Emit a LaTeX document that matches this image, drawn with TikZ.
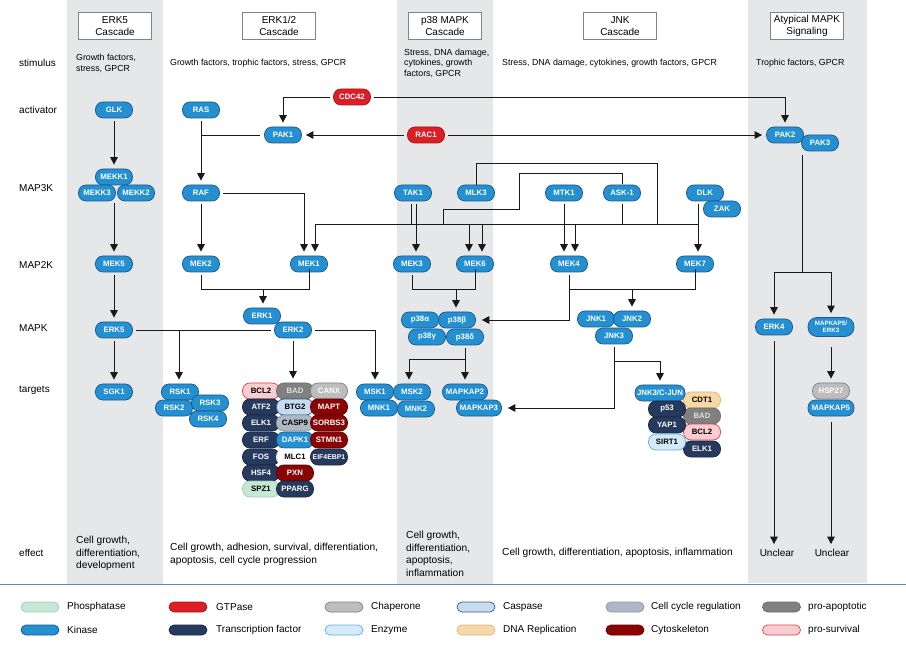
\documentclass[tikz,border=0pt]{standalone}
\usepackage{fontspec}
\setmainfont{Liberation Sans}
\usetikzlibrary{arrows.meta}
\definecolor{kinC}{RGB}{36,144,209}\definecolor{kinB}{RGB}{30,88,138}
\definecolor{tfC}{RGB}{38,58,94}\definecolor{tfB}{RGB}{25,38,65}
\definecolor{gtpC}{RGB}{220,31,38}\definecolor{gtpB}{RGB}{165,20,25}
\definecolor{chapC}{RGB}{189,189,189}\definecolor{chapB}{RGB}{130,130,130}
\definecolor{caspC}{RGB}{198,219,240}\definecolor{caspB}{RGB}{60,90,130}
\definecolor{ccC}{RGB}{173,184,197}\definecolor{ccB}{RGB}{135,150,168}
\definecolor{apoC}{RGB}{128,128,128}\definecolor{apoB}{RGB}{108,108,108}
\definecolor{phC}{RGB}{196,232,212}\definecolor{phB}{RGB}{160,205,180}
\definecolor{enzC}{RGB}{212,234,248}\definecolor{enzB}{RGB}{95,175,225}
\definecolor{dnaC}{RGB}{247,216,166}\definecolor{dnaB}{RGB}{215,180,130}
\definecolor{cytC}{RGB}{139,4,4}\definecolor{cytB}{RGB}{95,0,0}
\definecolor{surC}{RGB}{248,205,210}\definecolor{surB}{RGB}{225,65,78}
\definecolor{colbg}{RGB}{230,231,233}
\definecolor{sepC}{RGB}{90,140,180}
\definecolor{hdrB}{RGB}{130,130,130}
\definecolor{lineC}{RGB}{25,25,25}
\begin{document}
\begin{tikzpicture}[x=1pt,y=-1pt,
  pill/.style={rounded corners=7.5pt, minimum width=37pt, minimum height=16pt, inner sep=0pt, line width=0.7pt, font=\fontsize{7.8}{8}\selectfont\bfseries},
  kin/.style={pill, fill=kinC, draw=kinB, text=white},
  tf/.style={pill, fill=tfC, draw=tfB, text=white},
  gtp/.style={pill, fill=gtpC, draw=gtpB, text=white},
  chap/.style={pill, fill=chapC, draw=chapB, text=white},
  casp/.style={pill, fill=caspC, draw=caspB, text=black},
  cc/.style={pill, fill=ccC, draw=ccB, text=black},
  apo/.style={pill, fill=apoC, draw=apoB, text=white!88!black},
  ph/.style={pill, fill=phC, draw=phB, text=black},
  enz/.style={pill, fill=enzC, draw=enzB, text=black},
  dna/.style={pill, fill=dnaC, draw=dnaB, text=black},
  cyt/.style={pill, fill=cytC, draw=cytB, text=white},
  sur/.style={pill, fill=surC, draw=surB, text=black},
  plainpill/.style={pill, fill=white, draw=white, text=black},
  arr/.style={line width=0.9pt, draw=lineC, -{Triangle[width=7.5pt,length=7.5pt]}, shorten >=4pt},
  ln/.style={line width=0.9pt, draw=lineC},
  hdr/.style={draw=hdrB, fill=white, line width=0.8pt, minimum width=73pt, minimum height=27pt, align=center, font=\fontsize{10}{11.5}\selectfont, inner sep=0pt},
  rowlab/.style={anchor=west, inner sep=0pt, font=\fontsize{10}{12}\selectfont},
  stim/.style={anchor=west, align=left, font=\fontsize{8.8}{10.5}\selectfont, inner sep=0pt},
  eff/.style={anchor=west, align=left, font=\fontsize{10.2}{12.5}\selectfont, inner sep=0pt},
  sw/.style={rounded corners=5pt, minimum width=38pt, minimum height=10pt, inner sep=0pt, line width=0.7pt},
  legt/.style={anchor=west, font=\fontsize{10}{12}\selectfont, inner sep=0pt},
]
\useasboundingbox (0,0) rectangle (906,655);
% background columns
\fill[colbg] (67,0) rectangle (163,584);
\fill[colbg] (397,0) rectangle (493,584);
\fill[colbg] (748,0) rectangle (867,583);
\draw[sepC, line width=1pt] (0,584.5) -- (906,584.5);

% headers
\node[hdr] (hERK5) at (115,26) {ERK5\\Cascade};
\node[hdr] (hERK12) at (279,26) {ERK1/2\\Cascade};
\node[hdr] (hP38) at (445,26) {p38 MAPK\\Cascade};
\node[hdr] (hJNK) at (620,26) {JNK\\Cascade};
\node[hdr] (hATY) at (807,26) {Atypical MAPK\\Signaling};

% row labels
\node[rowlab] (lStim) at (19,63) {stimulus};
\node[rowlab] (lAct) at (19,110) {activator};
\node[rowlab] (lM3) at (19,188) {MAP3K};
\node[rowlab] (lM2) at (19,265) {MAP2K};
\node[rowlab] (lM1) at (19,328) {MAPK};
\node[rowlab] (lTar) at (19,390) {targets};
\node[rowlab] (lEff) at (19,553) {effect};

% stimuli
\node[stim] (s1) at (76,63.5) {Growth factors,\\stress, GPCR};
\node[stim] (s2) at (170,63) {Growth factors, trophic factors, stress, GPCR};
\node[stim] (s3) at (404,63) {Stress, DNA damage,\\cytokines, growth\\factors, GPCR};
\node[stim] (s4) at (502,63) {Stress, DNA damage, cytokines, growth factors, GPCR};
\node[stim] (s5) at (756,63) {Trophic factors, GPCR};

% effects
\node[eff] (e1) at (76,553.5) {Cell growth,\\differentiation,\\development};
\node[eff] (e2) at (170,554.5) {Cell growth, adhesion, survival, differentiation,\\apoptosis, cell cycle progression};
\node[eff] (e3) at (406,554) {Cell growth,\\differentiation,\\apoptosis,\\inflammation};
\node[eff] (e4) at (502,553) {Cell growth, differentiation, apoptosis, inflammation};
\node[font=\fontsize{10}{12}\selectfont, inner sep=1pt] (U1) at (777,553) {Unclear};
\node[font=\fontsize{10}{12}\selectfont, inner sep=1pt] (U2) at (832,553) {Unclear};

% activators
\node[kin] (GLK) at (114,110) {GLK};
\node[kin] (RAS) at (201,110) {RAS};
\node[gtp] (CDC42) at (352,97) {CDC42};
\node[kin] (PAK1) at (283,135) {PAK1};
\node[gtp] (RAC1) at (426,135) {RAC1};
\node[kin] (PAK2) at (785,135) {PAK2};
\node[kin] (PAK3) at (820,143) {PAK3};

% MAP3K
\node[kin] (MEKK1) at (114,177) {MEKK1};
\node[kin] (MEKK3) at (97,193) {MEKK3};
\node[kin] (MEKK2) at (136,193) {MEKK2};
\node[kin] (RAF) at (201,193) {RAF};
\node[kin] (TAK1) at (413,193) {TAK1};
\node[kin] (MLK3) at (476,193) {MLK3};
\node[kin] (MTK1) at (564,193) {MTK1};
\node[kin] (ASK1) at (622,193) {ASK-1};
\node[kin] (DLK) at (705,193) {DLK};
\node[kin] (ZAK) at (722,209) {ZAK};

% MAP2K
\node[kin] (MEK5) at (114,264) {MEK5};
\node[kin] (MEK2) at (201,264) {MEK2};
\node[kin] (MEK1) at (309,264) {MEK1};
\node[kin] (MEK3) at (412,264) {MEK3};
\node[kin] (MEK6) at (475,264) {MEK6};
\node[kin] (MEK4) at (569,264) {MEK4};
\node[kin] (MEK7) at (695,264) {MEK7};

% MAPK
\node[kin] (ERK5) at (114,330) {ERK5};
\node[kin] (ERK1) at (262,316) {ERK1};
\node[kin] (ERK2) at (293,330) {ERK2};
\node[kin] (p38a) at (420,320) {p38α};
\node[kin] (p38b) at (457,320) {p38β};
\node[kin] (p38g) at (427,337) {p38γ};
\node[kin] (p38d) at (465,337) {p38δ};
\node[kin] (JNK1) at (596,319) {JNK1};
\node[kin] (JNK2) at (632,319) {JNK2};
\node[kin] (JNK3) at (614,336) {JNK3};
\node[kin] (ERK4) at (774,327) {ERK4};
\node[kin, minimum width=46pt, minimum height=19pt, rounded corners=9pt, align=center, font=\fontsize{6.2}{7}\selectfont\bfseries] (MK5E3) at (831,327) {MAPKAP5/\\ERK3};

% targets
\node[kin] (SGK1) at (114,392) {SGK1};
\node[kin] (RSK1) at (180,392) {RSK1};
\node[kin] (RSK2) at (174,408) {RSK2};
\node[kin] (RSK3) at (210,403) {RSK3};
\node[kin] (RSK4) at (208,419) {RSK4};

\node[sur] (gBCL2) at (261,391) {BCL2};
\node[apo] (gBAD) at (295,391) {BAD};
\node[chap] (gCANX) at (329,391) {CANX};
\node[tf] (gATF2) at (261,407) {ATF2};
\node[casp] (gBTG2) at (295,407) {BTG2};
\node[cyt] (gMAPT) at (329,407) {MAPT};
\node[tf] (gELK1) at (261,423) {ELK1};
\node[cc] (gCASP9) at (295,423) {CASP9};
\node[cyt] (gSORBS3) at (329,423) {SORBS3};
\node[tf] (gERF) at (261,440) {ERF};
\node[kin] (gDAPK1) at (295,440) {DAPK1};
\node[cyt] (gSTMN1) at (329,440) {STMN1};
\node[tf] (gFOS) at (261,457) {FOS};
\node[plainpill] (gMLC1) at (295,457) {MLC1};
\node[tf, font=\fontsize{6.9}{8}\selectfont\bfseries] (gEIF) at (329,457) {EIF4EBP1};
\node[tf] (gHSF4) at (261,473) {HSF4};
\node[cyt] (gPXN) at (295,473) {PXN};
\node[ph] (gSPZ1) at (261,489) {SPZ1};
\node[tf] (gPPARG) at (295,489) {PPARG};

\node[kin] (MSK1) at (375,392) {MSK1};
\node[kin] (MNK1) at (379,408) {MNK1};
\node[kin] (MSK2) at (412,392) {MSK2};
\node[kin] (MNK2) at (416,409) {MNK2};
\node[kin, minimum width=45pt] (MAPKAP2) at (465,392) {MAPKAP2};
\node[kin, minimum width=45pt] (MAPKAP3) at (479,408) {MAPKAP3};

\node[dna] (jCDT1) at (702,400) {CDT1};
\node[apo] (jBAD) at (702,416) {BAD};
\node[sur] (jBCL2) at (702,432) {BCL2};
\node[tf] (jELK1) at (702,449) {ELK1};
\node[kin, minimum width=50pt] (jCJUN) at (660,393) {JNK3/C-JUN};
\node[tf] (jp53) at (667,409) {p53};
\node[tf] (jYAP1) at (667,425) {YAP1};
\node[enz] (jSIRT1) at (667,442) {SIRT1};

\node[chap] (HSP27) at (831,391) {HSP27};
\node[kin, minimum width=46pt] (MAPKAP5) at (831,408) {MAPKAP5};

% ---------------- connectors ----------------
% ERK5 cascade
\draw[arr, shorten <=3pt] (GLK.south) -- (MEKK1.north);
\draw[arr] (MEK5.north |- MEKK3.south) ++(0,2) -- (MEK5.north);
\draw[arr, shorten <=3pt] (MEK5.south) -- (ERK5.north);
\draw[arr, shorten <=3pt] (ERK5.south) -- (SGK1.north);

% activators
\draw[arr, shorten <=3pt] (RAS.south) -- (RAF.north);
\draw[ln, shorten <=4pt] (PAK1.west) -- (PAK1.west -| RAS.south);
\draw[arr, shorten <=3pt] (CDC42.west) -| (PAK1.north);
\draw[arr, shorten <=3pt] (CDC42.east) -| (PAK2.north);
\draw[arr, shorten <=3pt] (RAC1.west) -- (PAK1.east);
\draw[arr, shorten <=3pt] (RAC1.east) -- (PAK2.west);

% ERK1/2
\draw[arr, shorten <=3pt] (RAF.south) -- (MEK2.north);
\draw[arr, shorten <=3pt] (RAF.east) -| ([xshift=-5pt]MEK1.north);
\coordinate (busL) at (315,224);
\coordinate (busR) at (698,224);
\draw[ln] (busL) -- (busR);
\draw[arr] (busL) -- (busL |- MEK1.north);
\coordinate (j1) at (263,289);
\draw[ln, shorten <=3pt] (MEK2.south) |- (MEK1.south |- j1) -- ([yshift=3pt]MEK1.south);
\draw[arr] (j1) -- (j1 |- ERK1.north);
\draw[ln, shorten <=3pt, shorten >=3pt] (ERK5.east) -- (ERK2.west);
\coordinate (rskj) at (179,330);
\draw[arr] (rskj) -- (rskj |- RSK1.north);
\draw[arr, shorten <=3pt] (ERK2.east) -| (MSK1.north);
\draw[arr, shorten <=3pt] (ERK2.south) -- (ERK2.south |- gBAD.north);

% MAP3K wiring
\draw[ln, shorten <=3pt] ([xshift=-2pt]TAK1.south) -- ([xshift=-2pt]TAK1.south |- busL);
\draw[arr, shorten <=3pt] ([xshift=3pt]TAK1.south) -- ([xshift=3pt]TAK1.south |- MEK3.north);
\coordinate (mlkT) at (657,163);
\draw[ln] (MLK3.north) |- (mlkT) -- (mlkT |- busL);
\coordinate (askT) at (519,173);
\coordinate (askM) at (443,209);
\draw[ln, shorten <=1pt] (ASK1.north) |- (askT) |- (askM) -- (askM |- busL);
\draw[ln, shorten <=3pt] (ASK1.south) -- (ASK1.south |- busL);
\draw[arr] ([xshift=-6pt]MEK6.north |- busL) -- ([xshift=-6pt]MEK6.north);
\draw[arr] ([xshift=7pt]MEK6.north |- busL) -- ([xshift=7pt]MEK6.north);
\draw[arr, shorten <=3pt] (MTK1.south) -- (MTK1.south |- MEK4.north);
\draw[arr] ([xshift=6pt]MEK4.north |- busL) -- ([xshift=6pt]MEK4.north);
\draw[arr, shorten <=3pt] ([xshift=-7pt]DLK.south) -- ([xshift=-7pt]DLK.south |- MEK7.north);

% p38
\coordinate (j2) at (456,289);
\draw[ln, shorten <=3pt] (MEK3.south) |- (MEK6.south |- j2) -- ([yshift=3pt]MEK6.south);
\draw[arr] (j2) -- (j2 |- p38b.north);
\draw[arr, shorten <=3pt] (MEK4.south) |- ([xshift=2pt]p38b.east);
\coordinate (j4) at (465,359);
\draw[ln, shorten <=3pt] (p38d.south) -- (j4);
\draw[arr] (j4) -| ([xshift=-3pt]MSK2.north);
\draw[arr] (j4) -- (j4 |- MAPKAP2.north);

% JNK
\coordinate (j3) at (632,289);
\draw[ln] (MEK4.south |- j3) -- (MEK7.south |- j3) -- ([yshift=3pt]MEK7.south);
\draw[arr] (j3) -- (j3 |- JNK2.north);
\coordinate (j5) at (614,361);
\draw[ln, shorten <=3pt] (JNK3.south) -- (j5);
\draw[arr] (j5) -| (jCJUN.north);
\draw[arr] (j5) |- ([xshift=2pt]MAPKAP3.east);

% Atypical
\coordinate (j6) at (802,272);
\draw[ln] (j6 |- PAK3.south) ++(0,4) -- (j6);
\draw[arr] (j6) -| (ERK4.north);
\draw[arr] (j6) -| (MK5E3.north);
\draw[arr, shorten <=6pt] (ERK4.south) -- (ERK4.south |- U1.north);
\draw[arr, shorten <=10pt] (MK5E3.south) -- (MK5E3.south |- HSP27.north);
\draw[arr, shorten <=6pt] (MAPKAP5.south) -- (MAPKAP5.south |- U2.north);

% legend
\node[sw, fill=phC, draw=phB] (L1) at (40,607) {};
\node[legt] (T1) at (67,607) {Phosphatase};
\node[sw, fill=gtpC, draw=gtpB] (L2) at (188,607) {};
\node[legt] (T2) at (216,607) {GTPase};
\node[sw, fill=chapC, draw=chapB] (L3) at (344,607) {};
\node[legt] (T3) at (371,607) {Chaperone};
\node[sw, fill=caspC, draw=caspB] (L4) at (476,607) {};
\node[legt] (T4) at (503,607) {Caspase};
\node[sw, fill=ccC, draw=ccB] (L5) at (625,607) {};
\node[legt] (T5) at (651,607) {Cell cycle regulation};
\node[sw, fill=apoC, draw=apoB] (L6) at (781.5,607) {};
\node[legt] (T6) at (808,607) {pro-apoptotic};
\node[sw, fill=kinC, draw=kinB] (L7) at (40,630) {};
\node[legt] (T7) at (67,630) {Kinase};
\node[sw, fill=tfC, draw=tfB] (L8) at (188,630) {};
\node[legt] (T8) at (216,630) {Transcription factor};
\node[sw, fill=enzC, draw=enzB] (L9) at (344,630) {};
\node[legt] (T9) at (371,630) {Enzyme};
\node[sw, fill=dnaC, draw=dnaB] (L10) at (476,630) {};
\node[legt] (T10) at (503,630) {DNA Replication};
\node[sw, fill=cytC, draw=cytB] (L11) at (625,630) {};
\node[legt] (T11) at (651,630) {Cytoskeleton};
\node[sw, fill=surC, draw=surB] (L12) at (781.5,630) {};
\node[legt] (T12) at (808,630) {pro-survival};
\end{tikzpicture}
\end{document}
